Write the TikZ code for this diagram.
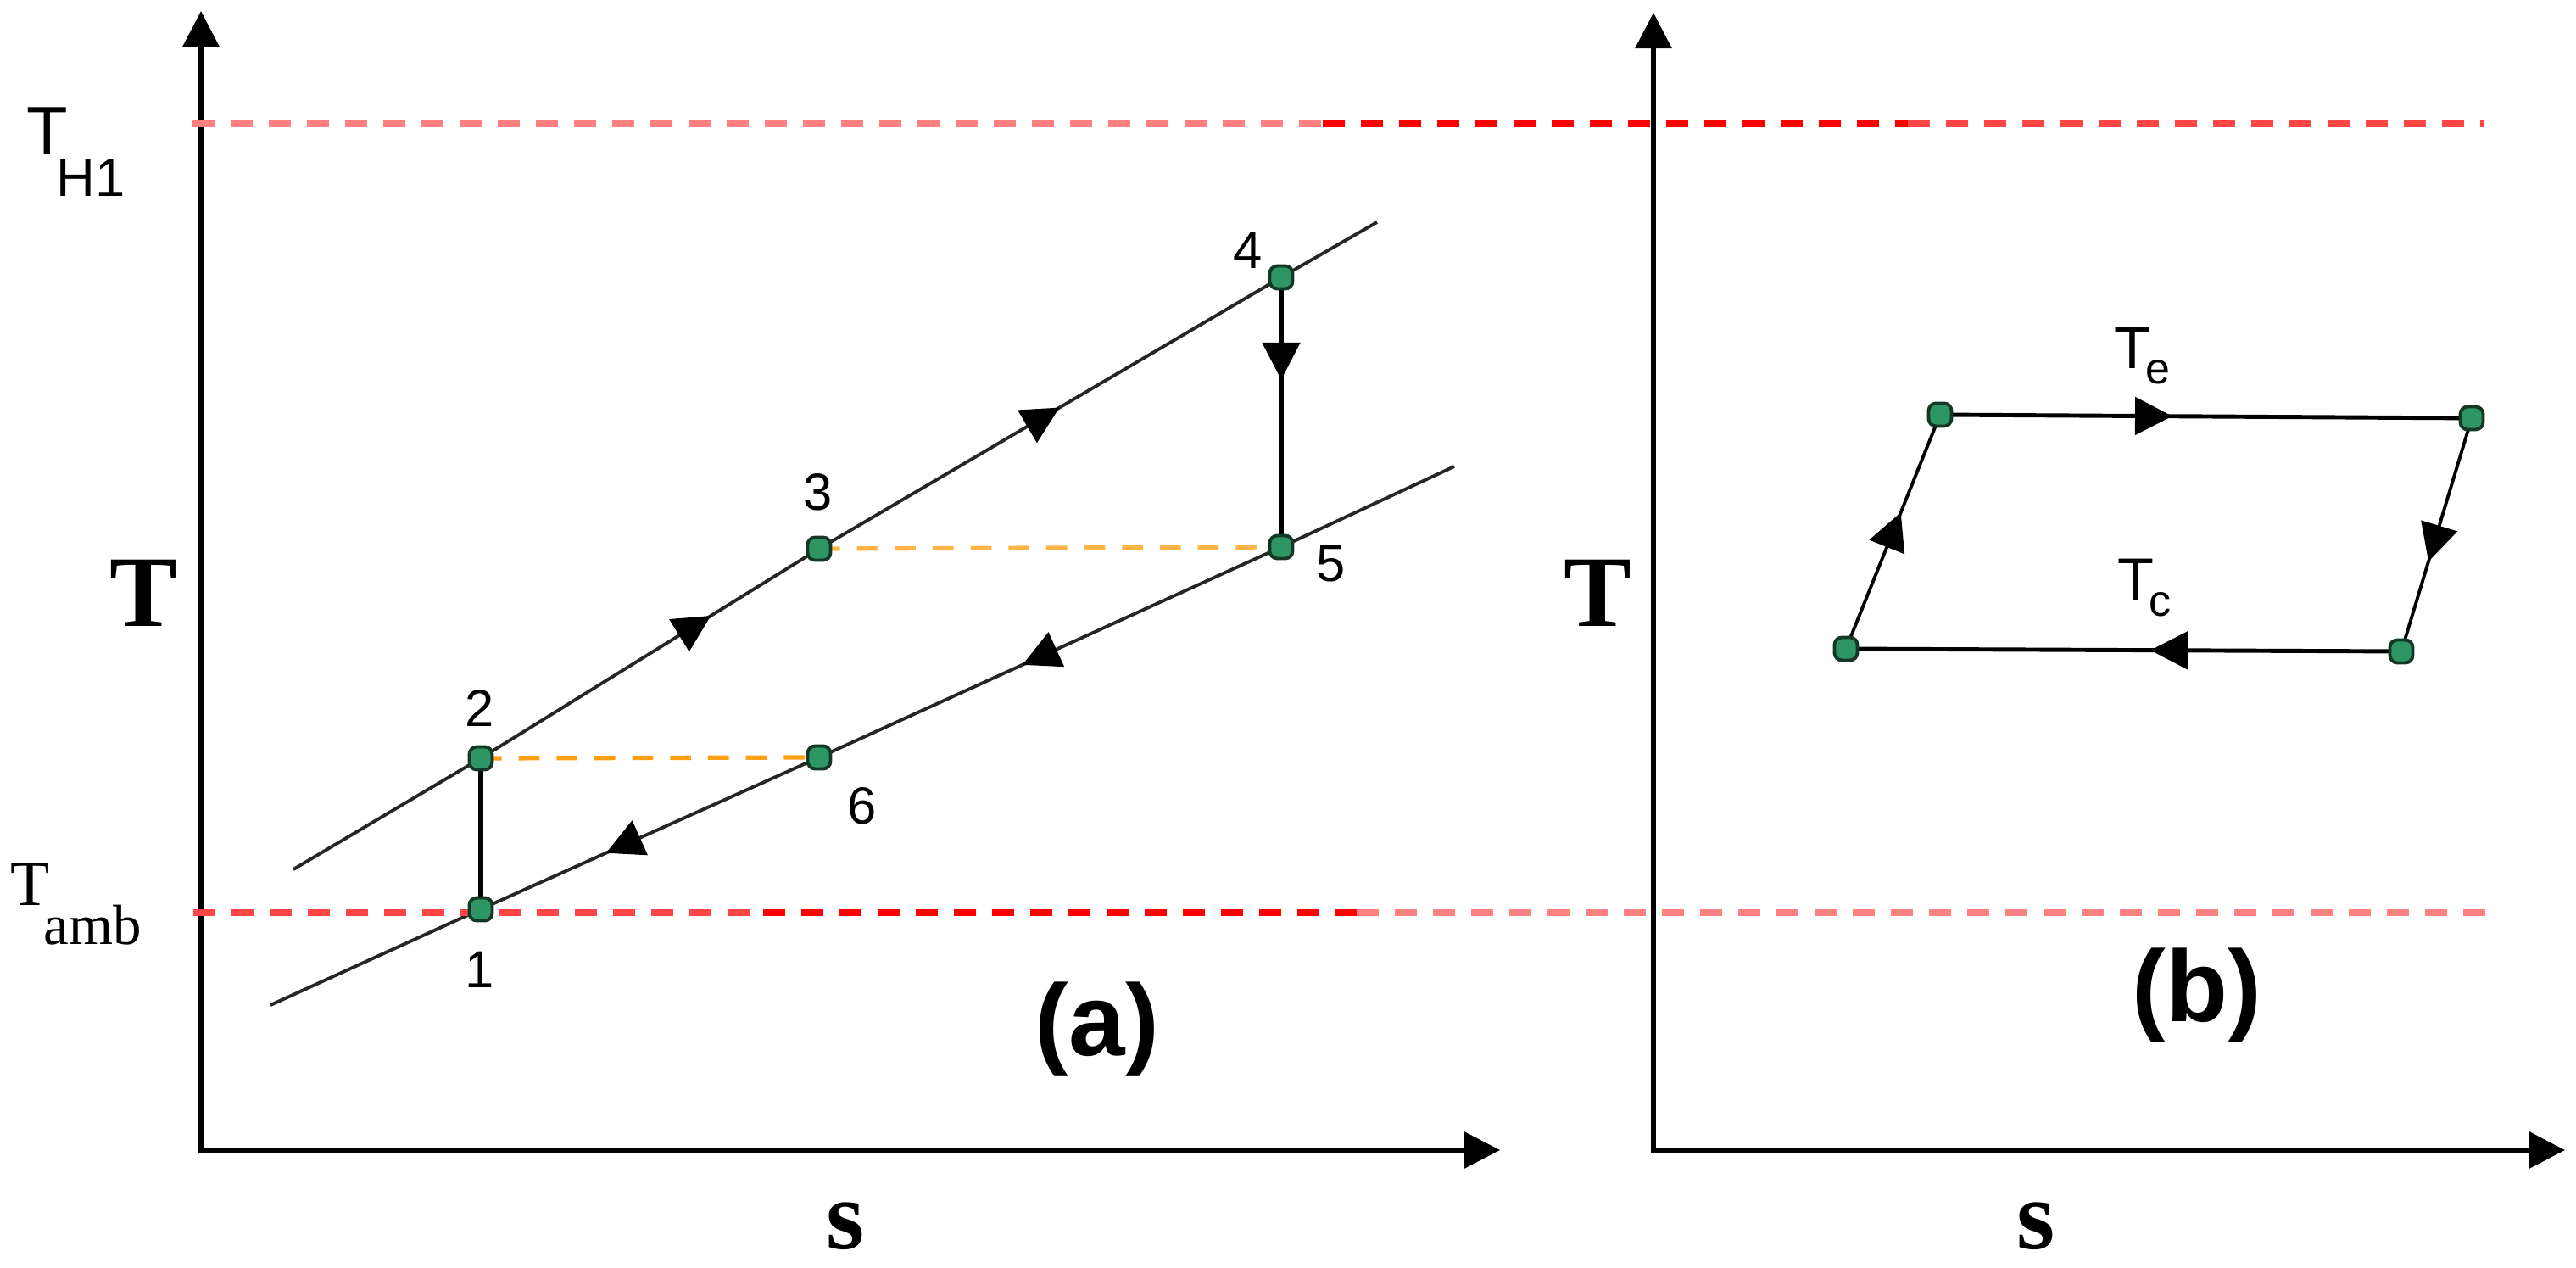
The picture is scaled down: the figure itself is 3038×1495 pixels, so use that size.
\documentclass[tikz,border=0pt]{standalone}
\usepackage{fontspec}
\setmainfont{Liberation Sans}
\newfontfamily\serifface{Liberation Serif}
\usetikzlibrary{arrows.meta,decorations.markings,backgrounds}
\definecolor{dotfill}{RGB}{46,150,100}
\definecolor{dotline}{RGB}{20,55,38}
\definecolor{redpink}{RGB}{255,128,128}
\definecolor{redmid}{RGB}{255,70,70}
\definecolor{redfull}{RGB}{255,0,0}
\definecolor{orangeA}{RGB}{255,160,20}
\definecolor{orangeB}{RGB}{255,180,70}
\begin{document}
\begin{tikzpicture}[x=0.01cm,y=-0.01cm,
  axis/.style={line width=1.7pt,{Triangle[length=12pt,width=12pt]}-{Triangle[length=12pt,width=12pt]}},
  tline/.style={line width=2.5pt,dash pattern=on 7.4pt off 5.4pt},
  odash/.style={line width=1.5pt,dash pattern=on 7pt off 5.7pt},
  proc/.style={line width=1.1pt,black!85},
  vline/.style={line width=1.5pt},
  hedge/.style={line width=1.4pt},
  sedge/.style={line width=1.1pt},
  midarrow/.style={postaction={decorate,decoration={markings,mark=at position #1 with {\arrow[black]{Triangle[length=12.5pt,width=12.5pt]}}}}},
  dot/.style={rectangle,rounded corners=2.5pt,minimum size=0.27cm,inner sep=0pt,fill=dotfill,draw=dotline,line width=1.1pt},
  lbl/.style={inner sep=0pt,font=\fontsize{17.5}{18}\selectfont},
  bigT/.style={inner sep=0pt,font=\serifface\bfseries\fontsize{34}{36}\selectfont},
  bigS/.style={inner sep=0pt,font=\serifface\bfseries\fontsize{33}{35}\selectfont},
  panel/.style={inner sep=0pt,font=\bfseries\fontsize{34}{36}\selectfont}
]
\useasboundingbox (0,0) rectangle (3038,1495);
\begin{scope}[on background layer]
\fill[white] (0,0) rectangle (3038,1495);
\end{scope}

% axes
\coordinate (oa) at (237,1356);
\coordinate (ya) at (237,13);
\coordinate (xa) at (1769,1356);
\coordinate (ob) at (1950,1356);
\coordinate (yb) at (1950,15);
\coordinate (xb) at (3025,1356);
\draw[axis] (ya) -- (oa) -- (xa);
\draw[axis] (yb) -- (ob) -- (xb);

% temperature levels
\coordinate (h1s) at (227,146);
\coordinate (h1m) at (1560,146);
\coordinate (h1n) at (2250,146);
\coordinate (h1e) at (2929,146);
\draw[tline,redpink] (h1s) -- (h1m);
\draw[tline,redfull] (h1m) -- (h1n);
\draw[tline,redmid] (h1n) -- (h1e);
\coordinate (tas) at (228,1076);
\coordinate (tam) at (900,1076);
\coordinate (tan) at (1600,1076);
\coordinate (tae) at (2931,1076);
\draw[tline,redmid] (tas) -- (tam);
\draw[tline,redfull] (tam) -- (tan);
\draw[tline,redpink] (tan) -- (tae);

% (a) state points
\node[dot] (p1) at (567,1072) {};
\node[dot] (p2) at (567,894) {};
\node[dot] (p3) at (966,647) {};
\node[dot] (p4) at (1511,327) {};
\node[dot] (p5) at (1511,645) {};
\node[dot] (p6) at (966,893) {};
\coordinate (ua) at (346,1025);
\coordinate (ub) at (1624,262);
\coordinate (la) at (319,1185);
\coordinate (lb) at (1715,550);

% (b) cycle points
\node[dot] (q1) at (2177,765) {};
\node[dot] (q2) at (2288,489) {};
\node[dot] (q3) at (2915,493) {};
\node[dot] (q4) at (2832,768) {};

\begin{scope}[on background layer]
\draw[proc] (ua) -- (p2.center);
\draw[proc,midarrow=0.68] (p2.center) -- (p3.center);
\draw[proc,midarrow=0.52] (p3.center) -- (p4.center);
\draw[proc] (p4.center) -- (ub);
\draw[proc] (la) -- (p1.center);
\draw[proc,midarrow=0.63] (p6.center) -- (p1.center);
\draw[proc,midarrow=0.56] (p5.center) -- (p6.center);
\draw[proc] (p5.center) -- (lb);
\draw[vline,midarrow=0.38] (p4.center) -- (p5.center);
\draw[vline] (p2.center) -- (p1.center);
\draw[odash,orangeA] (p2.center) -- (p6.center);
\draw[odash,orangeB] (p3.center) -- (p5.center);
\draw[sedge,midarrow=0.583] (q1.center) -- (q2.center);
\draw[hedge,midarrow=0.437] (q2.center) -- (q3.center);
\draw[sedge,midarrow=0.615] (q3.center) -- (q4.center);
\draw[hedge,midarrow=0.452] (q4.center) -- (q1.center);
\end{scope}

% labels of points
\node[lbl] (l4) at (1472,295) {4};
\node[lbl] (l5) at (1570,665) {5};
\node[lbl] (l2) at (566,835) {2};
\node[lbl] (l3) at (965,580) {3};
\node[lbl] (l6) at (1017,950) {6};
\node[lbl] (l1) at (566,1143) {1};

% temperature labels
\node[anchor=base west,inner sep=0pt] (th1) at (31,182)
  {\fontsize{22.6}{24}\selectfont T\kern-3.8pt\raisebox{-14.2pt}{\fontsize{18}{20}\selectfont H1}};
\node[anchor=base west,inner sep=0pt] (tamb) at (12,1068)
  {\serifface\fontsize{21.5}{22}\selectfont T\kern-2pt\raisebox{-12.8pt}{\fontsize{19}{20}\selectfont amb}};
\node[anchor=base west,inner sep=0pt] (te) at (2493,435)
  {\fontsize{20}{22}\selectfont T\kern-1.7pt\raisebox{-5.1pt}{\fontsize{14.8}{16}\selectfont e}};
\node[anchor=base west,inner sep=0pt] (tc) at (2497,708)
  {\fontsize{20}{22}\selectfont T\kern-1.7pt\raisebox{-5.4pt}{\fontsize{14.8}{16}\selectfont c}};

% axis titles
\node[bigT] (yta) at (169,699) {T};
\node[bigT] (ytb) at (1884,699) {T};
\node[bigS] (xsa) at (997,1446) {s};
\node[bigS] (xsb) at (2401,1446) {s};

% panel labels
\node[panel] (pa) at (1294,1214) {(a)};
\node[panel] (pb) at (2591,1174) {(b)};
\end{tikzpicture}
\end{document}
